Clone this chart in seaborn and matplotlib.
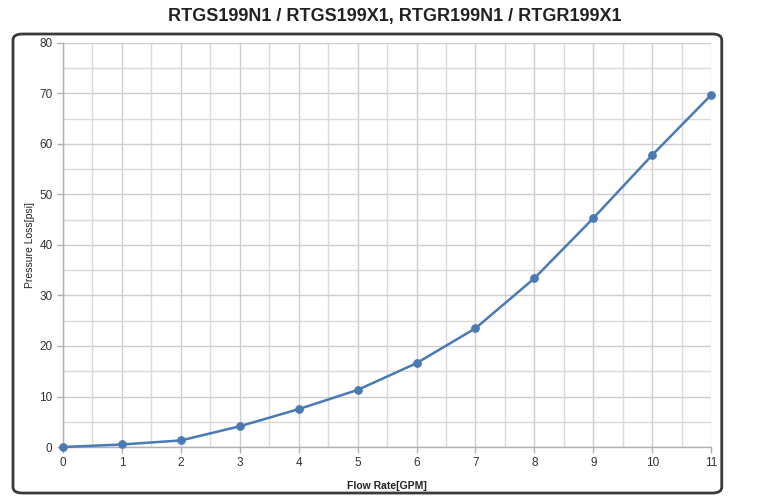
import matplotlib
matplotlib.use("Agg")
import matplotlib.pyplot as plt
from matplotlib.patches import FancyBboxPatch
import seaborn as sns
import pandas as pd

# dados
flow_gpm = [0, 1, 2, 3, 4, 5, 6, 7, 8, 9, 10, 11]
pressure_psi = [0.0, 0.5, 1.3, 4.1, 7.5, 11.3, 16.6, 23.5, 33.4, 45.3, 57.8, 69.7]
titulo = "RTGS199N1 / RTGS199X1, RTGR199N1 / RTGR199X1"

df = pd.DataFrame({"flow": flow_gpm, "pressure": pressure_psi})

sns.set_theme(style="white")
plt.rcParams["font.family"] = ["Liberation Sans", "DejaVu Sans"]

fig = plt.figure(figsize=(7.78, 4.97), dpi=100)
ax = fig.add_axes([0.081, 0.1006, 0.833, 0.8129])

# moldura arredondada em volta do gráfico
moldura = FancyBboxPatch((0.0167, 0.008), 0.911, 0.9236,
                         boxstyle="round,pad=0,rounding_size=0.012",
                         transform=fig.transFigure, fill=False,
                         edgecolor="#3a3a3a", linewidth=2, zorder=0)
fig.patches.append(moldura)

sns.lineplot(data=df, x="flow", y="pressure", ax=ax, color="#4a7ab4",
             linewidth=1.8, marker="o", markersize=5.5,
             markeredgecolor="#4a7ab4", zorder=3, clip_on=False)

ax.set_xlim(0, 11)
ax.set_ylim(0, 80)
ax.set_xticks(range(0, 12))
ax.set_yticks(range(0, 81, 10))
ax.set_xticks([x + 0.5 for x in range(11)], minor=True)
ax.set_yticks(range(5, 80, 10), minor=True)
ax.grid(True, which="major", color="#cdcdcd", linewidth=1)
ax.grid(True, which="minor", color="#dadada", linewidth=1)

for lado in ["top", "right"]:
    ax.spines[lado].set_visible(False)
for lado in ["left", "bottom"]:
    ax.spines[lado].set_color("#b0b0b0")
    ax.spines[lado].set_linewidth(1)

ax.tick_params(axis="both", which="major", labelsize=8.5, colors="#b0b0b0",
               labelcolor="#333333", length=4, width=1, bottom=True, left=True)
ax.tick_params(axis="both", which="minor", length=0)

ax.set_xlabel("Flow Rate[GPM]", fontsize=7.5, weight="bold", color="#222222")
ax.set_ylabel("Pressure Loss[psi]", fontsize=7.5, color="#222222")
ax.yaxis.set_label_coords(-0.043, 0.5)
ax.xaxis.set_label_coords(0.5, -0.085)

fig.text(0.508, 0.966, titulo, ha="center", va="center", fontsize=13,
         weight="bold", color="#222222")

fig.savefig("out.png", dpi=100)
